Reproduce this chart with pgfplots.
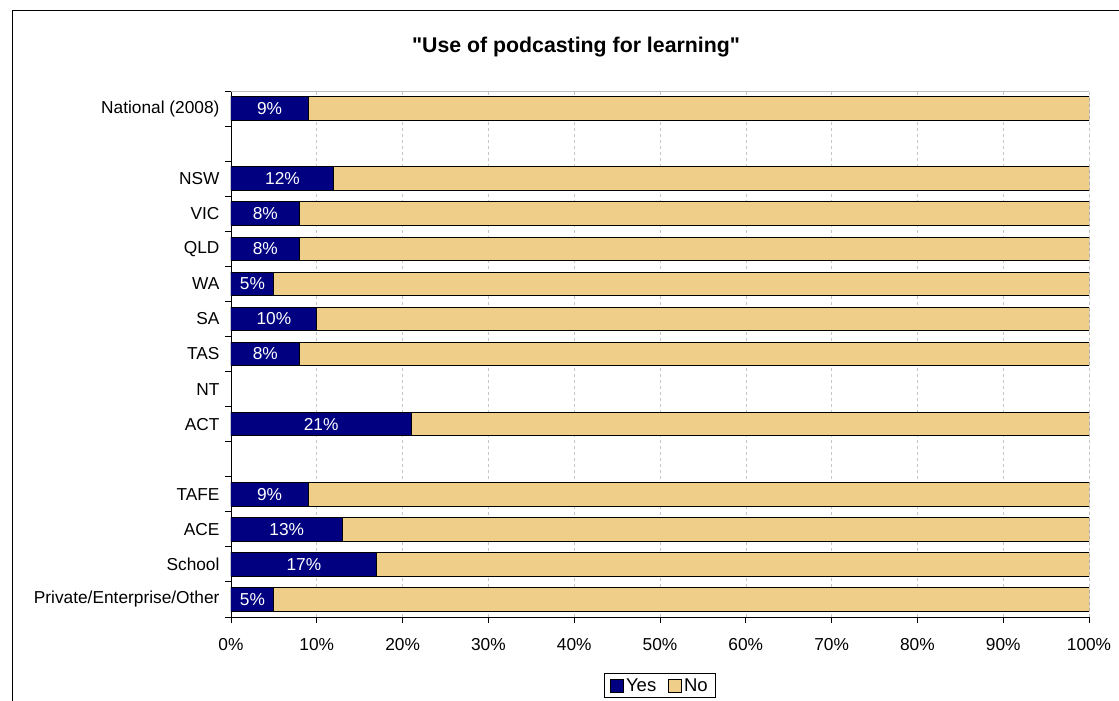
\documentclass[border=0pt]{standalone}
\usepackage{pgfplots}
\pgfplotsset{compat=1.18}
\usepackage{pgfplotstable}
\usepackage{fontspec}
\setmainfont{Liberation Sans}
\newfontfamily\titlefont{Liberation Sans}
\definecolor{C_Yes}{RGB}{0,0,128}
\definecolor{C_No}{RGB}{238,206,136}

% row: 14 = top (National), 0 = bottom (Private); NT (row 6) has no data
\pgfplotstableread{
row yes no
14  9  91
12  12 88
11  8  92
10  8  92
9   5  95
8   10 90
7   8  92
5   21 79
3   9  91
2   13 87
1   17 83
0   5  95
}\podcast

\pgfplotsset{
    podframe/.style={
        at={(0pt,0pt)}, anchor=south west,
        scale only axis,
        width=858pt, height=526pt,
        xmin=0, xmax=100,
        ymin=-0.5, ymax=14.5,
    },
}

\begin{document}
\begin{tikzpicture}[font=\fontsize{17.3}{20}\selectfont]
\path[use as bounding box] (-231pt,-84pt) rectangle (888pt,617pt);
\draw[line width=1.3pt] (-218.3pt,-90pt) -- (-218.3pt,606.3pt) -- (900pt,606.3pt);
\node[font=\titlefont\bfseries\fontsize{21.3}{24}\selectfont] at (345pt,570pt) {"Use of podcasting for learning"};
\begin{axis}[
    podframe,
    xbar stacked,
    bar width=23.5pt,
    axis lines*=left,
    axis line style={-, black, line width=0.9pt},
    xtick={0,10,...,100},
    xticklabel={\pgfmathprintnumber{\tick}\%},
    /pgf/number format/assume math mode=true,
    xmajorgrids,
    grid style={dashed, gray!45, line width=0.6pt},
    tick align=outside,
    major tick length=6pt,
    tick style={black, line width=0.9pt},
    ytick={-0.5,0.5,...,14.5},
    yticklabels={},
    extra y ticks={0,1,...,14},
    extra y tick labels={Private/Enterprise/Other,School,ACE,TAFE,{},ACT,NT,TAS,SA,WA,QLD,VIC,NSW,{},National (2008)},
    extra y tick style={major tick length=0pt, ymajorgrids=false, yticklabel style={xshift=-8pt}},
    tick label style={font=\fontsize{17.3}{20}\selectfont},
    xticklabel style={yshift=-12pt},
    legend style={at={(0.5,0)}, anchor=north, yshift=-56pt, legend columns=2,
        draw=black, line width=0.8pt, font=\fontsize{18.5}{22}\selectfont,
        inner xsep=6pt, inner ysep=3pt,
        /tikz/every even column/.append style={column sep=10pt}},
    legend image code/.code={\draw[#1, line width=0.8pt] (0pt,-6.5pt) rectangle (13pt,6.5pt);},
]
\addplot[fill=C_Yes, draw=black, line width=1pt] table[x=yes, y=row] {\podcast};
\addplot[fill=C_No, draw=black, line width=1pt] table[x=no, y=row] {\podcast};
\legend{Yes, No}
\draw[gray!50, line width=0.9pt] (rel axis cs:0,1) -- (rel axis cs:1,1) -- (rel axis cs:1,0);
\end{axis}
% value labels centred in the Yes segments
\begin{axis}[podframe, hide axis, /pgf/number format/assume math mode=true]
\addplot[only marks, mark=none, point meta=explicit,
    nodes near coords={\pgfmathprintnumber{\pgfplotspointmeta}\%},
    nodes near coords style={text=white, anchor=center, font=\fontsize{17.3}{20}\selectfont}]
    table[x expr=\thisrow{yes}/2, y=row, meta=yes] {\podcast};
\end{axis}
\end{tikzpicture}
\end{document}
